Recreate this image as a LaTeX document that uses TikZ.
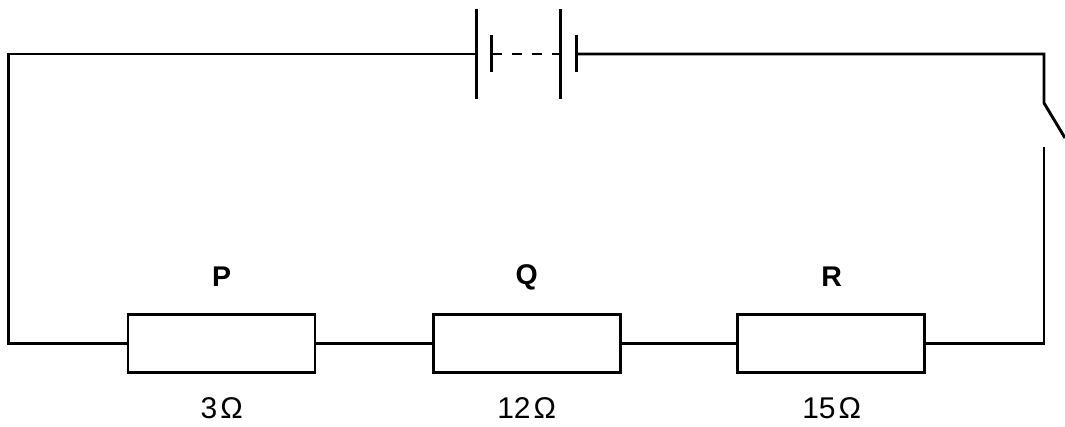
\documentclass[tikz,border=0pt]{standalone}
\usepackage{fontspec}
\setmainfont{Liberation Sans}
\begin{document}
\begin{tikzpicture}[x=1pt,y=-1pt,
  wire/.style={line width=2.9pt},
  resistor/.style={draw,line width=2.9pt,rectangle,minimum width=187pt,minimum height=58pt,inner sep=0pt},
  rlabel/.style={font=\fontsize{28.5}{28}\selectfont\bfseries,inner sep=0pt},
  rvalue/.style={font=\fontsize{30}{30}\selectfont,inner sep=0pt}]
\useasboundingbox (0,0) rectangle (1065,426);
% resistors
\node[resistor] (P) at (221.5,343.5) {};
\node[resistor] (Q) at (526.7,343.5) {};
\node[resistor] (R) at (831.2,343.5) {};
\node[rlabel] (lP) at (221.7,277) {P};
\node[rlabel] (lQ) at (526.7,277) {Q};
\node[rlabel] (lR) at (831.7,277) {R};
\node[rvalue] (vP) at (221.7,408) {3\kern0.1emΩ};
\node[rvalue] (vQ) at (526.7,408) {12\kern0.1emΩ};
\node[rvalue] (vR) at (831.7,408) {15\kern0.1emΩ};
% corners
\coordinate (bl) at (8.5,343.5);
\coordinate (tl) at (8.5,54);
\coordinate (tr) at (1044,54);
\coordinate (sw1) at (1044,103);
\coordinate (sw2) at (1065,138);
\coordinate (sw3) at (1044,147);
\coordinate (br) at (1044,343.5);
% battery
\coordinate (b1) at (476.7,54);
\coordinate (b2) at (491.7,54);
\coordinate (b2s) at (501.7,54);
\coordinate (b3s) at (551.7,54);
\coordinate (b3) at (560.7,54);
\coordinate (b4) at (576.7,54);
\draw[wire] (b1 |- 0,9) -- (b1 |- 0,99);
\draw[wire] (b2 |- 0,35) -- (b2 |- 0,72);
\draw[wire] (b3 |- 0,9) -- (b3 |- 0,99);
\draw[wire] (b4 |- 0,35) -- (b4 |- 0,72);
\draw[wire] (b2) -- (b2s);
\draw[wire] (511.7,54) -- (521.7,54);
\draw[wire] (531.7,54) -- (541.7,54);
\draw[wire] (b3s) -- (b3);
% wires
\draw[wire] (P.west) -- (bl) -- (tl) -- (b1);
\draw[wire] (b4) -- (tr) -- (sw1) -- (sw2);
\draw[wire] (sw3) -- (br) -- (R.east);
\draw[wire] (P.east) -- (Q.west);
\draw[wire] (Q.east) -- (R.west);
\end{tikzpicture}
\end{document}
